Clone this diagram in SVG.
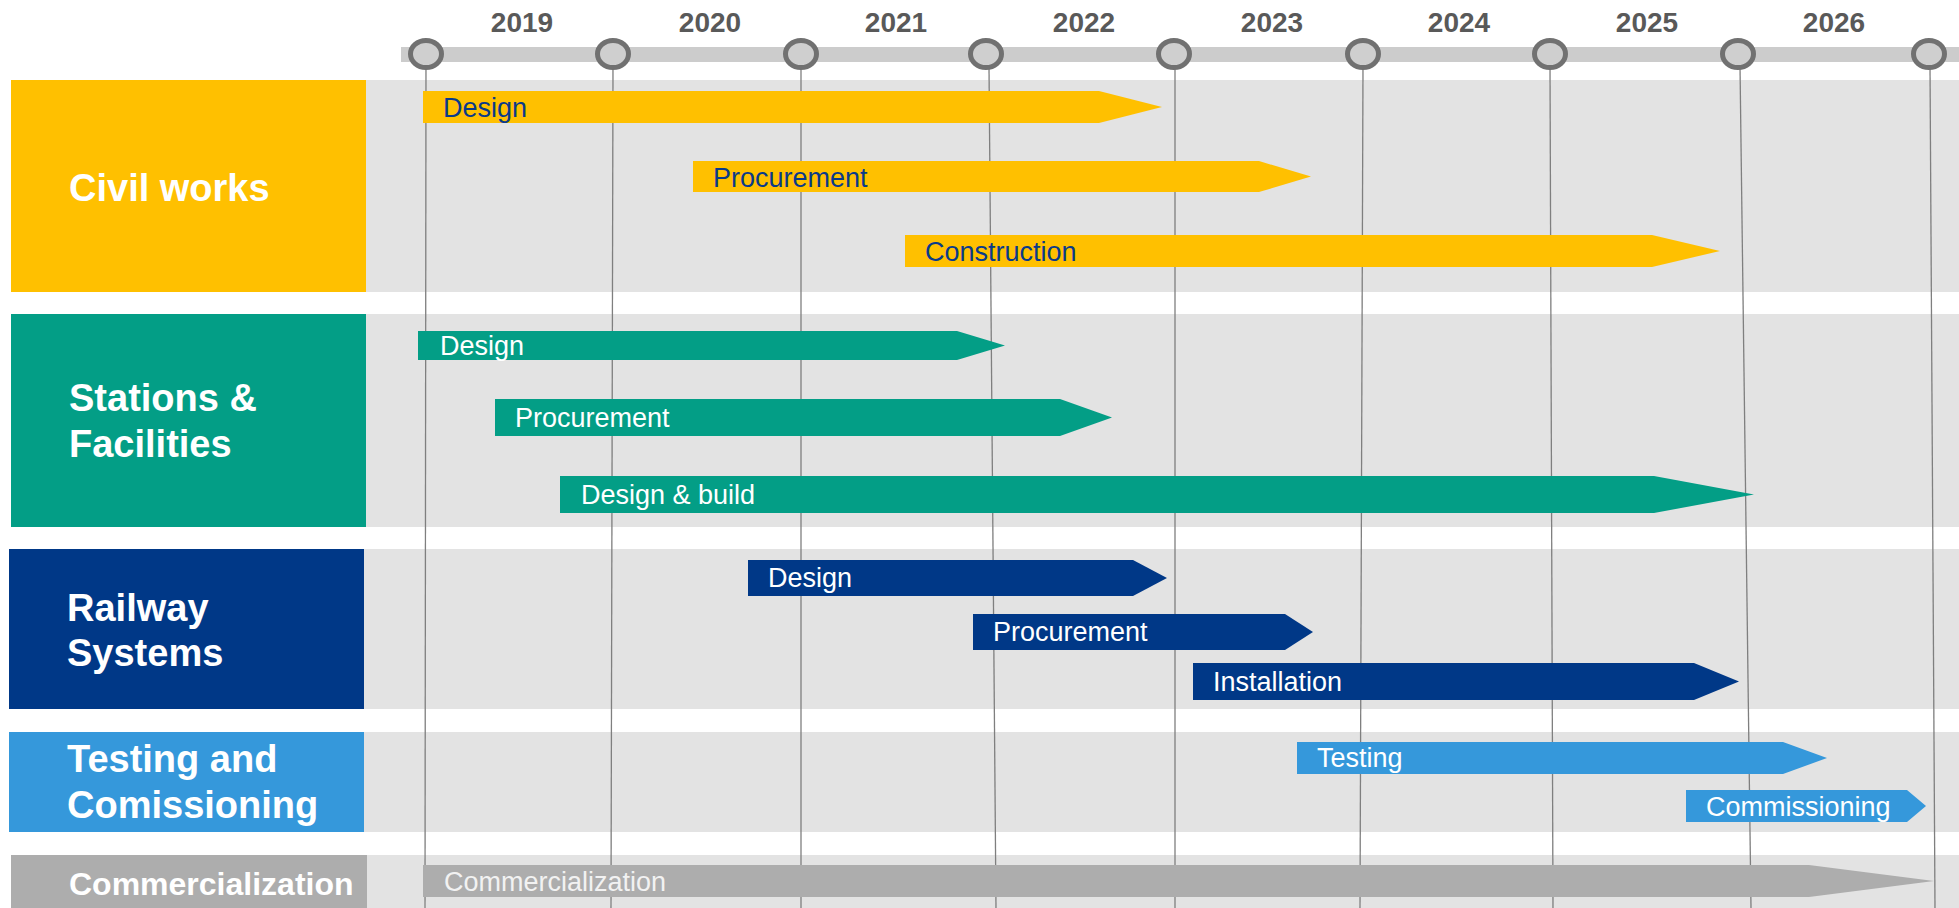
<svg xmlns="http://www.w3.org/2000/svg" width="1959" height="908" viewBox="0 0 1959 908">
<style>
.yr{font-family:"Liberation Sans",Arial,sans-serif;font-weight:bold;font-size:28px;fill:#595959;text-anchor:middle}
.lbl{font-family:"Liberation Sans",Arial,sans-serif;font-weight:bold;font-size:38px;fill:#ffffff}
.bt{font-family:"Liberation Sans",Arial,sans-serif;font-size:27px;fill:#ffffff}
.bty{font-family:"Liberation Sans",Arial,sans-serif;font-size:27px;fill:#0a3a8a}
.row{fill:#e3e3e3}
.grid{stroke:#7f7f7f;stroke-width:1.3;fill:none}
.ms{fill:#cfcfcf;stroke:#717171;stroke-width:5}
.civ{fill:#ffc000}
.sta{fill:#039e86}
.rai{fill:#003887}
.tes{fill:#3598db}
.com{fill:#adadad}
</style>
<rect width="1959" height="908" fill="#ffffff"/>
<g id="rows">
<rect class="row" x="366" y="80" width="1593" height="212"/>
<rect class="row" x="366" y="314" width="1593" height="213"/>
<rect class="row" x="364" y="549" width="1595" height="160"/>
<rect class="row" x="364" y="732" width="1595" height="100"/>
<rect class="row" x="367" y="855" width="1592" height="53"/>
</g>
<g id="timeline">
<rect x="401" y="47" width="1558" height="15" fill="#cccccc"/>
<g id="connectors">
<line class="grid" x1="426" y1="66" x2="425" y2="908"/>
<line class="grid" x1="613" y1="66" x2="611" y2="908"/>
<line class="grid" x1="801" y1="66" x2="801" y2="908"/>
<line class="grid" x1="989" y1="66" x2="996" y2="908"/>
<line class="grid" x1="1175" y1="66" x2="1175" y2="908"/>
<line class="grid" x1="1363" y1="66" x2="1360" y2="908"/>
<line class="grid" x1="1550" y1="66" x2="1553" y2="908"/>
<line class="grid" x1="1740" y1="66" x2="1751" y2="908"/>
<line class="grid" x1="1930" y1="66" x2="1935" y2="908"/>
</g>
<ellipse class="ms" cx="426" cy="54" rx="15.5" ry="13.5"/>
<ellipse class="ms" cx="613" cy="54" rx="15.5" ry="13.5"/>
<ellipse class="ms" cx="801" cy="54" rx="15.5" ry="13.5"/>
<ellipse class="ms" cx="986" cy="54" rx="15.5" ry="13.5"/>
<ellipse class="ms" cx="1174" cy="54" rx="15.5" ry="13.5"/>
<ellipse class="ms" cx="1363" cy="54" rx="15.5" ry="13.5"/>
<ellipse class="ms" cx="1550" cy="54" rx="15.5" ry="13.5"/>
<ellipse class="ms" cx="1738" cy="54" rx="15.5" ry="13.5"/>
<ellipse class="ms" cx="1929" cy="54" rx="15.5" ry="13.5"/>
<text class="yr" x="522" y="32">2019</text>
<text class="yr" x="710" y="32">2020</text>
<text class="yr" x="896" y="32">2021</text>
<text class="yr" x="1084" y="32">2022</text>
<text class="yr" x="1272" y="32">2023</text>
<text class="yr" x="1459" y="32">2024</text>
<text class="yr" x="1647" y="32">2025</text>
<text class="yr" x="1834" y="32">2026</text>
</g>
<g id="civil-works">
<rect class="civ" x="11" y="80" width="355" height="212"/>
<text class="lbl" x="69" y="201">Civil works</text>
</g>
<g id="civil-design">
<polygon class="civ" points="423,91 1099,91 1162,107 1099,123 423,123"/>
<text class="bty" x="443" y="117">Design</text>
</g>
<g id="civil-procurement">
<polygon class="civ" points="693,161 1259,161 1311,176.5 1259,192 693,192"/>
<text class="bty" x="713" y="187">Procurement</text>
</g>
<g id="civil-construction">
<polygon class="civ" points="905,235 1652,235 1720,251 1652,267 905,267"/>
<text class="bty" x="925" y="261">Construction</text>
</g>
<g id="stations-facilities">
<rect class="sta" x="11" y="314" width="355" height="213"/>
<text class="lbl" x="69" y="411">Stations &amp;</text>
<text class="lbl" x="69" y="457">Facilities</text>
</g>
<g id="stations-design">
<polygon class="sta" points="418,331 957,331 1005,345.5 957,360 418,360"/>
<text class="bt" x="440" y="355">Design</text>
</g>
<g id="stations-procurement">
<polygon class="sta" points="495,399 1060,399 1112,417.5 1060,436 495,436"/>
<text class="bt" x="515" y="427">Procurement</text>
</g>
<g id="stations-design-build">
<polygon class="sta" points="560,476 1654,476 1754,494.5 1654,513 560,513"/>
<text class="bt" x="581" y="504">Design &amp; build</text>
</g>
<g id="railway-systems">
<rect class="rai" x="9" y="549" width="355" height="160"/>
<text class="lbl" x="67" y="621">Railway</text>
<text class="lbl" x="67" y="666">Systems</text>
</g>
<g id="railway-design">
<polygon class="rai" points="748,560 1133,560 1167,578 1133,596 748,596"/>
<text class="bt" x="768" y="587">Design</text>
</g>
<g id="railway-procurement">
<polygon class="rai" points="973,614 1285,614 1313,632 1285,650 973,650"/>
<text class="bt" x="993" y="641">Procurement</text>
</g>
<g id="railway-installation">
<polygon class="rai" points="1193,663 1694,663 1739,681.5 1694,700 1193,700"/>
<text class="bt" x="1213" y="691">Installation</text>
</g>
<g id="testing-comissioning">
<rect class="tes" x="9" y="732" width="355" height="100"/>
<text class="lbl" x="67" y="772">Testing and</text>
<text class="lbl" x="67" y="818">Comissioning</text>
</g>
<g id="testing">
<polygon class="tes" points="1297,742 1783,742 1827,758 1783,774 1297,774"/>
<text class="bt" x="1317" y="767">Testing</text>
</g>
<g id="commissioning">
<polygon class="tes" points="1686,790 1907,790 1926,806 1907,822 1686,822"/>
<text class="bt" x="1706" y="816">Commissioning</text>
</g>
<g id="commercialization">
<rect class="com" x="11" y="855" width="356" height="53"/>
<text class="lbl" x="69" y="895" style="font-size:32px">Commercialization</text>
</g>
<g id="commercialization-bar">
<polygon class="com" points="423,865 1809,865 1934,881 1809,897 423,897"/>
<text class="bt" x="444" y="891" style="fill:#f2f2f2">Commercialization</text>
</g>
</svg>
